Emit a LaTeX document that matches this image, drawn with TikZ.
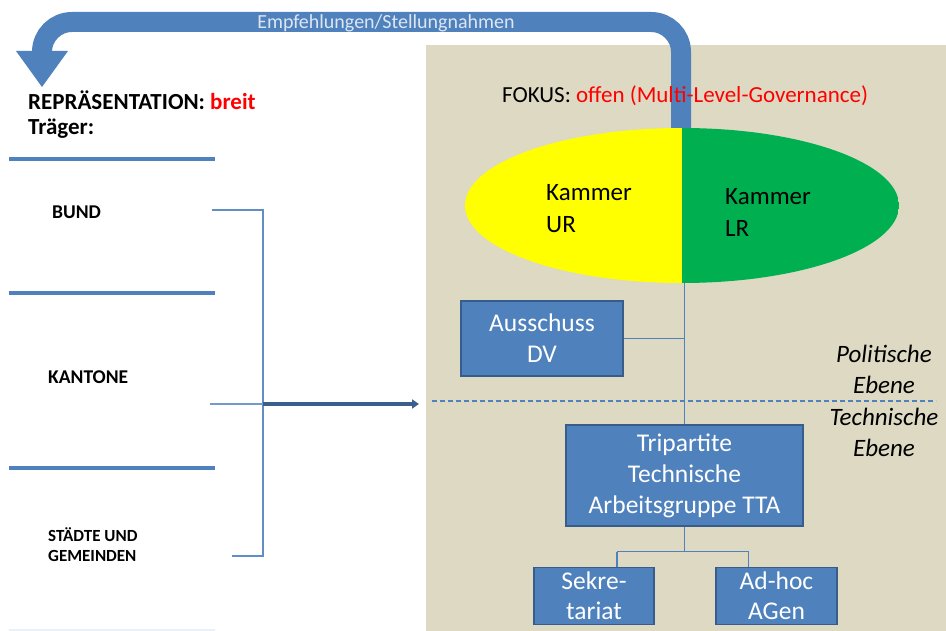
\documentclass[tikz,border=0pt]{standalone}
\usepackage{fontspec}
\setmainfont{Carlito}
\usetikzlibrary{shapes.geometric,arrows.meta}
\definecolor{bandblue}{HTML}{4F81BD}
\definecolor{boxline}{HTML}{385D8A}
\definecolor{darkarrow}{HTML}{3A5F8E}
\definecolor{beige}{HTML}{DDD9C3}
\definecolor{kyellow}{HTML}{FFFF00}
\definecolor{kgreen}{HTML}{00B050}
\definecolor{labelwhite}{HTML}{DCE6F2}
\definecolor{offred}{HTML}{FF0000}
\tikzset{
  orgbox/.style={draw=boxline, line width=1.5pt, fill=bandblue, text=white, inner sep=0pt, align=center,
    font=\fontsize{25.5}{31}\selectfont},
  thinlink/.style={draw=bandblue, line width=1.3pt},
  sepline/.style={draw=bandblue, line width=3.5pt},
  bracketline/.style={draw=bandblue!90!white, line width=2pt},
  lefttext/.style={font=\bfseries\fontsize{19.5}{20}\selectfont, anchor=west, inner sep=0pt, align=left},
  leveltext/.style={font=\itshape\fontsize{25}{31}\selectfont, align=center, inner sep=0pt},
  kammertext/.style={font=\fontsize{25}{32}\selectfont, align=left, anchor=west, inner sep=0pt},
  chamber/.style={ellipse, minimum width=434pt, minimum height=155pt, inner sep=0pt,
    path picture={
      \fill[kyellow] (path picture bounding box.south west) rectangle (path picture bounding box.north);
      \fill[kgreen] (path picture bounding box.south) rectangle (path picture bounding box.north east);
    }}
}
\begin{document}
\begin{tikzpicture}[x=1pt,y=-1pt]
\useasboundingbox (0,0) rectangle (946,631);
\fill[white] (0,0) rectangle (946,631);
% beige panel
\node[fill=beige, minimum width=520pt, minimum height=586pt, anchor=north west, inner sep=0pt] (panel) at (426,45) {};
% big feedback arrow
\coordinate (rep) at (42,87);
\coordinate (repbase) at (42,52);
\coordinate (bandstart) at (681,132);
\draw[bandblue, line width=20pt, rounded corners=30pt] (bandstart) -- (681,22) -- (42,22) -- (repbase);
\fill[bandblue] (16,51) -- (68,51) -- (rep) -- cycle;
\node[text=labelwhite, font=\fontsize{20}{22}\selectfont, inner sep=0pt, anchor=base] (empf) at (386,29) {Empfehlungen/Stellungnahmen};
% chamber ellipse
\node[chamber] (kammer) at (682,205.5) {};
\node[kammertext] (ur) at (546,209) {Kammer\\UR};
\node[kammertext] (lr) at (725,212) {Kammer\\LR};
% focus text
\node[anchor=west, inner sep=0pt, font=\fontsize{23}{25}\selectfont] (fokus) at (502,96) {FOKUS: \textcolor{offred}{offen (Multi-Level-Governance)}};
% boxes
\node[orgbox, minimum width=162pt, minimum height=75pt] (aus) at (542,338.5) {Ausschuss\\DV};
\node[orgbox, minimum width=237pt, minimum height=101pt] (tta) at (684.5,475.5) {Tripartite\\Technische\\Arbeitsgruppe TTA};
\node[orgbox, minimum width=120pt, minimum height=57pt, font=\fontsize{25.5}{30}\selectfont] (sek) at (594,596) {Sekre-\\tariat};
\node[orgbox, minimum width=121pt, minimum height=57pt, font=\fontsize{25.5}{30}\selectfont] (adh) at (776.5,596) {Ad-hoc\\AGen};
% org connectors
\draw[thinlink] (kammer.south -| tta.north) -- (tta.north);
\draw[thinlink] (aus.east) -- (aus.east -| tta.north);
\coordinate (sekin) at ([xshift=23pt]sek.north);
\coordinate (adhin) at ([xshift=-28pt]adh.north);
\coordinate (bus) at ([yshift=-25pt]tta.south);
\draw[thinlink] (tta.south) -- (bus);
\draw[thinlink] (bus -| sekin) -- (bus -| adhin);
\draw[thinlink] (bus -| sekin) -- (sekin);
\draw[thinlink] (bus -| adhin) -- (adhin);
% level divider
\draw[bandblue, line width=1.8pt, dash pattern=on 5pt off 3pt] (432,401) -- (936,401);
\node[leveltext] (pol) at (884,369) {Politische\\Ebene};
\node[leveltext] (tech) at (884,432.5) {Technische\\Ebene};
% left side
\node[anchor=west, inner sep=0pt, font=\bfseries\fontsize{23}{24}\selectfont] (repr) at (28,100) {REPRÄSENTATION: \textcolor{offred}{breit}};
\node[anchor=west, inner sep=0pt, font=\bfseries\fontsize{23}{24}\selectfont] (traeger) at (28,129) {Träger:};
\draw[sepline] (9,159) -- (215,159);
\draw[sepline] (9,293) -- (215,293);
\draw[sepline] (9,468) -- (215,468);
\draw[draw=bandblue!12, line width=2pt] (9,630) -- (215,630);
\node[lefttext] (bund) at (52,212) {BUND};
\node[lefttext] (kantone) at (48,377.5) {KANTONE};
\node[lefttext, font=\bfseries\fontsize{17}{20}\selectfont] (staedte) at (48,545) {STÄDTE UND\\GEMEINDEN};
% bracket
\coordinate (bb) at (212,210);
\coordinate (kb) at (210,404);
\coordinate (sb) at (232,556);
\coordinate (bx) at (263,404);
\draw[bracketline] (bb) -- (bb -| bx) -- (sb -| bx) -- (sb);
\draw[bandblue!80!white, line width=1.5pt] (kb) -- (bx);
\draw[darkarrow, line width=4.5pt, -{Triangle[length=7pt,width=9pt]}] (bx) -- ([xshift=-7pt]bx -| panel.west);
\end{tikzpicture}
\end{document}
